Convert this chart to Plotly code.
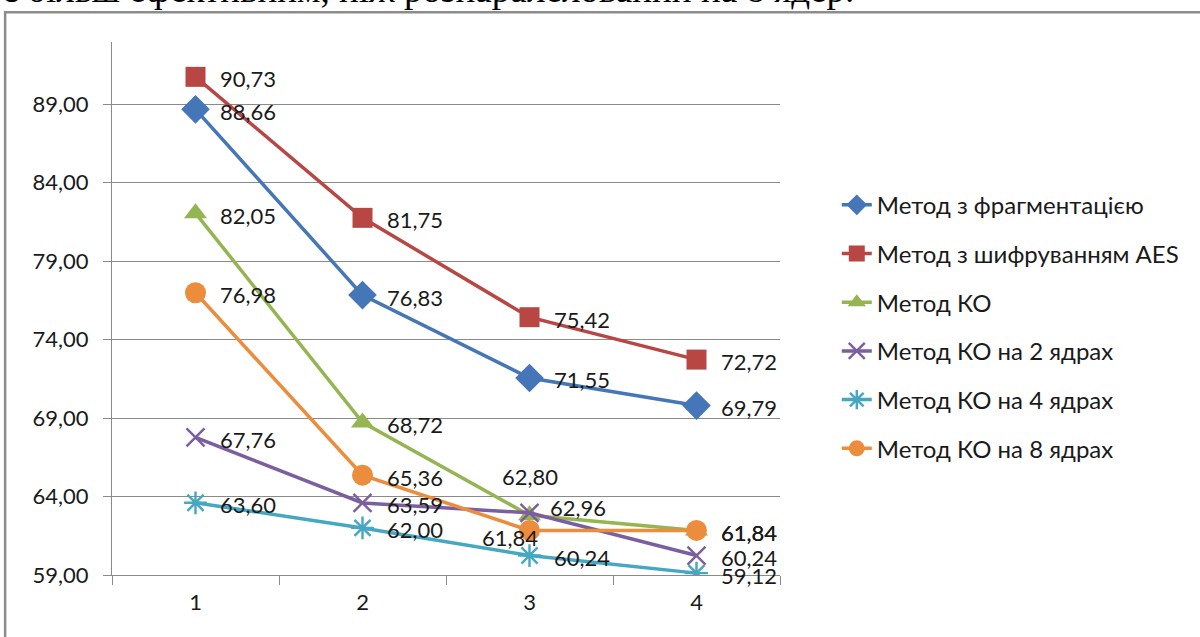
import plotly.graph_objects as go

# ---------------- data ----------------
categories = ["1", "2", "3", "4"]
series_names = [
    "Метод з фрагментацією",
    "Метод з шифруванням AES",
    "Метод КО",
    "Метод КО на 2 ядрах",
    "Метод КО на 4 ядрах",
    "Метод КО на 8 ядрах",
]
frag = [88.66, 76.83, 71.55, 69.79]
aes = [90.73, 81.75, 75.42, 72.72]
ko = [82.05, 68.72, 62.80, 61.84]
ko2 = [67.76, 63.59, 62.96, 60.24]
ko4 = [63.60, 62.00, 60.24, 59.12]
ko8 = [76.98, 65.36, 61.84, 61.84]
y_ticks = [59, 64, 69, 74, 79, 84, 89]
caption = "є більш ефективним, ніж розпаралелований на 8 ядер."

# ---------------- style ----------------
FONT = "Lato"
colors = ["#4476B8", "#B84744", "#94B552", "#7B5E9F", "#45A7C2", "#EC8C3D"]
marker_styles = [
    dict(symbol="diamond", size=22),
    dict(symbol="square", size=20),
    dict(symbol="triangle-up", size=20),
    dict(symbol="x-thin-open", size=18, line=dict(width=2.4)),
    dict(symbol="asterisk-open", size=19, line=dict(width=2.4)),
    dict(symbol="circle", size=21),
]
# label placement tweaks (series index, point index) -> (xanchor, xshift, yshift)
label_tweaks = {
    (2, 2): ("center", 0, 39),
    (5, 2): ("right", 10, -7),
    (3, 2): ("left", 18, 5),
}

all_series = [frag, aes, ko, ko2, ko4, ko8]

fig = go.Figure()
for i, (name, vals) in enumerate(zip(series_names, all_series)):
    mk = dict(marker_styles[i])
    mk["color"] = colors[i]
    if "line" in mk:
        mk["line"] = dict(mk["line"], color=colors[i])
    fig.add_trace(go.Scatter(
        x=categories, y=vals, name=name, mode="lines+markers",
        line=dict(color=colors[i], width=3.5),
        marker=mk, legendgroup=f"g{i}",
    ))

annotations = []
for i, vals in enumerate(all_series):
    for j, v in enumerate(vals):
        xa, xs, ys = label_tweaks.get((i, j), ("left", 22, -2))
        annotations.append(dict(
            x=j, y=v, xref="x", yref="y",
            text=f"{v:.2f}".replace(".", ","), showarrow=False,
            xanchor=xa, yanchor="middle", xshift=xs, yshift=ys,
            font=dict(family=FONT, size=22, color="#1a1a1a"),
        ))

# caption (partially cut off at the top of the image)
annotations.append(dict(
    x=-0.168, y=1.0562, xref="paper", yref="paper", text=caption,
    showarrow=False, xanchor="left", yanchor="bottom",
    font=dict(family="Liberation Serif", size=37, color="#000000"),
))

fig.update_layout(
    width=1200, height=637,
    margin=dict(l=112, r=420, t=42, b=62),
    paper_bgcolor="white", plot_bgcolor="white",
    separators=", ",
    font=dict(family=FONT, size=22, color="#1a1a1a"),
    showlegend=True,
    legend=dict(
        x=1.085, y=0.736, xanchor="left", yanchor="top",
        font=dict(family=FONT, size=24, color="#1a1a1a"),
        tracegroupgap=14.5, bgcolor="rgba(0,0,0,0)",
    ),
    annotations=annotations,
    shapes=[dict(
        type="rect", xref="paper", yref="paper",
        x0=-0.160, x1=1.8, y0=-0.4, y1=1.056,
        line=dict(color="#8c8c8c", width=2.5), fillcolor="rgba(0,0,0,0)",
        layer="below",
    )],
)

fig.update_xaxes(
    type="category", range=[-0.5, 3.5],
    showgrid=False, showline=True, linecolor="#8a8a8a", linewidth=1,
    ticks="outside", tickson="boundaries", ticklen=9, tickcolor="#8a8a8a",
    ticklabelstandoff=8, zeroline=False,
)
fig.update_yaxes(
    range=[59, 92.95], tickvals=y_ticks, tickformat=".2f",
    showgrid=True, gridcolor="#8a8a8a", gridwidth=1,
    showline=True, linecolor="#8a8a8a", linewidth=1,
    ticks="outside", ticklen=8, tickcolor="#8a8a8a",
    ticklabelstandoff=10, zeroline=False,
)

fig.write_html(
    "out.html",
    config={"displayModeBar": False},
    post_script="document.body.style.margin='0px';",
)
